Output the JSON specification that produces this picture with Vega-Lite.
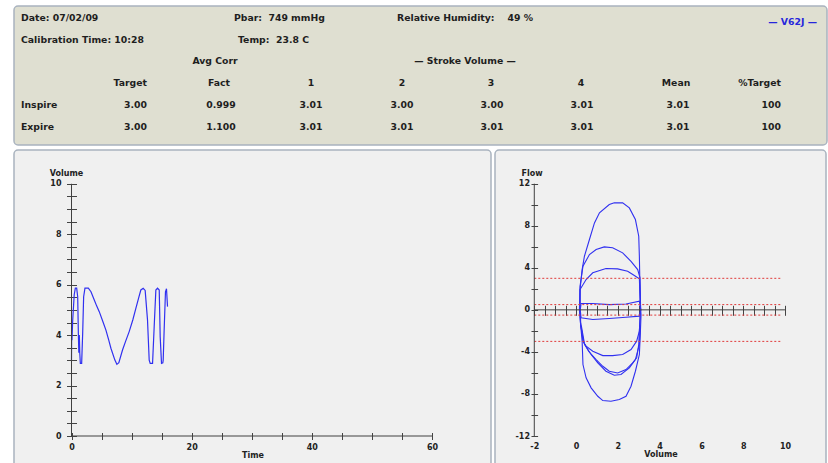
{
  "$schema": "https://vega.github.io/schema/vega-lite/v6.json",
  "background": "white",
  "padding": {"left": 13, "top": 5, "right": 0, "bottom": 0},
  "spacing": 3,
  "config": {
    "font": "DejaVu Sans",
    "view": {"stroke": null},
    "axis": {
      "labelFont": "DejaVu Sans", "labelFontWeight": "bold", "labelFontSize": 8, "labelColor": "#222222",
      "titleFont": "DejaVu Sans", "titleFontWeight": "bold", "titleFontSize": 8, "titleColor": "#222222",
      "tickColor": "#444444", "tickWidth": 1, "grid": false, "domain": false,
      "labelOverlap": false, "labelFlush": false
    },
    "text": {"font": "DejaVu Sans"}
  },
  "datasets": {
    "hdrLeft": [
      {"k": -0.222, "r": 1, "s": "Date: 07/02/09"},
      {"k": 2.144, "r": 1, "s": "Pbar:\u00a0 749 mmHg"},
      {"k": 3.956, "r": 1, "s": "Relative Humidity:\u00a0\u00a0\u00a0 49 %"},
      {"k": -0.222, "r": 2, "s": "Calibration Time: 10:28"},
      {"k": 2.189, "r": 2, "s": "Temp:\u00a0 23.8 C"},
      {"k": -0.222, "r": 5, "s": "Inspire"},
      {"k": -0.222, "r": 6, "s": "Expire"}
    ],
    "hdrCenter": [
      {"k": 1.933, "r": 3, "s": "Avg Corr"},
      {"k": 4.711, "r": 3, "s": "— Stroke Volume —"},
      {"k": 1.978, "r": 4, "s": "Fact"},
      {"k": 3, "r": 4, "s": "1"},
      {"k": 4.011, "r": 4, "s": "2"},
      {"k": 5, "r": 4, "s": "3"},
      {"k": 6, "r": 4, "s": "4"},
      {"k": 7.056, "r": 4, "s": "Mean"},
      {"k": 2, "r": 5, "s": "0.999"},
      {"k": 3, "r": 5, "s": "3.01"},
      {"k": 4.011, "r": 5, "s": "3.00"},
      {"k": 5.011, "r": 5, "s": "3.00"},
      {"k": 6.011, "r": 5, "s": "3.01"},
      {"k": 7.078, "r": 5, "s": "3.01"},
      {"k": 2, "r": 6, "s": "1.100"},
      {"k": 3, "r": 6, "s": "3.01"},
      {"k": 4.011, "r": 6, "s": "3.01"},
      {"k": 5.011, "r": 6, "s": "3.01"},
      {"k": 6.011, "r": 6, "s": "3.01"},
      {"k": 7.078, "r": 6, "s": "3.01"}
    ],
    "hdrRight": [
      {"k": 1.178, "r": 4, "s": "Target"},
      {"k": 1.178, "r": 5, "s": "3.00"},
      {"k": 1.178, "r": 6, "s": "3.00"},
      {"k": 8.222, "r": 4, "s": "%Target"},
      {"k": 8.222, "r": 5, "s": "100"},
      {"k": 8.222, "r": 6, "s": "100"}
    ],
    "hdrBlue": [
      {"k": 8.622, "r": 1.18, "s": "— V62J —"}
    ],
    "trace": [
      {"t": 0, "v": 3.0}, {"t": 0.04, "v": 4.5}, {"t": 0.08, "v": 3.8}, {"t": 0.2, "v": 4.6},
      {"t": 0.45, "v": 5.6}, {"t": 0.64, "v": 5.86}, {"t": 0.86, "v": 5.86}, {"t": 1.03, "v": 5.52},
      {"t": 1.14, "v": 4.07}, {"t": 1.22, "v": 3.3}, {"t": 1.3, "v": 4.0}, {"t": 1.38, "v": 3.28},
      {"t": 1.47, "v": 2.88}, {"t": 1.69, "v": 2.88}, {"t": 1.86, "v": 4.07}, {"t": 2.02, "v": 5.52},
      {"t": 2.24, "v": 5.86}, {"t": 2.8, "v": 5.86}, {"t": 3.24, "v": 5.72}, {"t": 3.79, "v": 5.39},
      {"t": 4.2, "v": 5.15}, {"t": 4.62, "v": 4.93}, {"t": 5.2, "v": 4.55}, {"t": 5.73, "v": 4.2},
      {"t": 6.2, "v": 3.8}, {"t": 6.56, "v": 3.48}, {"t": 7.22, "v": 3.01}, {"t": 7.55, "v": 2.84},
      {"t": 7.88, "v": 2.91}, {"t": 8.49, "v": 3.41}, {"t": 9.0, "v": 3.75}, {"t": 9.6, "v": 4.14},
      {"t": 10.2, "v": 4.6}, {"t": 10.71, "v": 5.06}, {"t": 11.2, "v": 5.5}, {"t": 11.54, "v": 5.79},
      {"t": 11.93, "v": 5.86}, {"t": 12.26, "v": 5.77}, {"t": 12.45, "v": 5.2}, {"t": 12.65, "v": 4.6},
      {"t": 12.93, "v": 3.01}, {"t": 13.1, "v": 2.88}, {"t": 13.49, "v": 2.88}, {"t": 13.76, "v": 4.33},
      {"t": 14.04, "v": 5.79}, {"t": 14.32, "v": 5.86}, {"t": 14.6, "v": 5.79}, {"t": 14.76, "v": 3.94},
      {"t": 14.98, "v": 2.88}, {"t": 15.2, "v": 2.9}, {"t": 15.26, "v": 3.01}, {"t": 15.42, "v": 4.2},
      {"t": 15.64, "v": 5.72}, {"t": 15.81, "v": 5.84}, {"t": 15.98, "v": 5.13}
    ],
    "loops": [
      {"loop": "A", "i": 1, "v": 0.16, "f": 0}, {"loop": "A", "i": 2, "v": 0.19, "f": 1.93},
      {"loop": "A", "i": 3, "v": 0.29, "f": 3.83}, {"loop": "A", "i": 4, "v": 0.4, "f": 5.1},
      {"loop": "A", "i": 5, "v": 0.64, "f": 6.69}, {"loop": "A", "i": 6, "v": 0.88, "f": 8.27},
      {"loop": "A", "i": 7, "v": 1.12, "f": 9.23}, {"loop": "A", "i": 8, "v": 1.59, "f": 10.02},
      {"loop": "A", "i": 9, "v": 1.83, "f": 10.18}, {"loop": "A", "i": 10, "v": 2.23, "f": 10.18},
      {"loop": "A", "i": 11, "v": 2.55, "f": 9.7}, {"loop": "A", "i": 12, "v": 2.84, "f": 8.59},
      {"loop": "A", "i": 13, "v": 3.0, "f": 7.0}, {"loop": "A", "i": 14, "v": 3.03, "f": 5.1},
      {"loop": "A", "i": 15, "v": 3.06, "f": 1.93}, {"loop": "A", "i": 16, "v": 3.09, "f": 0},
      {"loop": "A", "i": 17, "v": 3.11, "f": -0.45}, {"loop": "A", "i": 18, "v": 3.08, "f": -2.03},
      {"loop": "A", "i": 19, "v": 3.03, "f": -4.25}, {"loop": "A", "i": 20, "v": 2.84, "f": -5.84},
      {"loop": "A", "i": 21, "v": 2.63, "f": -7.27}, {"loop": "A", "i": 22, "v": 2.39, "f": -8.22},
      {"loop": "A", "i": 23, "v": 2.07, "f": -8.53}, {"loop": "A", "i": 24, "v": 1.67, "f": -8.7},
      {"loop": "A", "i": 25, "v": 1.28, "f": -8.63}, {"loop": "A", "i": 26, "v": 1.04, "f": -8.22},
      {"loop": "A", "i": 27, "v": 0.72, "f": -7.42}, {"loop": "A", "i": 28, "v": 0.48, "f": -6.47},
      {"loop": "A", "i": 29, "v": 0.33, "f": -5.2}, {"loop": "A", "i": 30, "v": 0.29, "f": -2.98},
      {"loop": "A", "i": 31, "v": 0.2, "f": -1.0}, {"loop": "A", "i": 32, "v": 0.16, "f": 0},
      {"loop": "B", "i": 1, "v": 0.18, "f": 0}, {"loop": "B", "i": 2, "v": 0.19, "f": 2.25},
      {"loop": "B", "i": 3, "v": 0.33, "f": 4.15}, {"loop": "B", "i": 4, "v": 0.64, "f": 5.26},
      {"loop": "B", "i": 5, "v": 0.96, "f": 5.74}, {"loop": "B", "i": 6, "v": 1.35, "f": 5.99},
      {"loop": "B", "i": 7, "v": 1.75, "f": 5.9}, {"loop": "B", "i": 8, "v": 2.23, "f": 5.42},
      {"loop": "B", "i": 9, "v": 2.63, "f": 4.62}, {"loop": "B", "i": 10, "v": 2.95, "f": 3.83},
      {"loop": "B", "i": 11, "v": 3.06, "f": 3.04}, {"loop": "B", "i": 12, "v": 3.09, "f": 0},
      {"loop": "B", "i": 13, "v": 3.03, "f": -2.03}, {"loop": "B", "i": 14, "v": 3.0, "f": -3.3},
      {"loop": "B", "i": 15, "v": 2.9, "f": -4.57}, {"loop": "B", "i": 16, "v": 2.71, "f": -5.05},
      {"loop": "B", "i": 17, "v": 2.39, "f": -5.68}, {"loop": "B", "i": 18, "v": 1.99, "f": -6.0},
      {"loop": "B", "i": 19, "v": 1.59, "f": -5.84}, {"loop": "B", "i": 20, "v": 1.28, "f": -5.37},
      {"loop": "B", "i": 21, "v": 0.96, "f": -4.73}, {"loop": "B", "i": 22, "v": 0.6, "f": -3.94},
      {"loop": "B", "i": 23, "v": 0.37, "f": -3.1}, {"loop": "B", "i": 24, "v": 0.22, "f": -1.5},
      {"loop": "B", "i": 25, "v": 0.18, "f": 0},
      {"loop": "C", "i": 1, "v": 0.2, "f": 0}, {"loop": "C", "i": 2, "v": 0.19, "f": 1.93},
      {"loop": "C", "i": 3, "v": 0.48, "f": 2.88}, {"loop": "C", "i": 4, "v": 0.8, "f": 3.52},
      {"loop": "C", "i": 5, "v": 1.43, "f": 3.93}, {"loop": "C", "i": 6, "v": 1.99, "f": 3.9},
      {"loop": "C", "i": 7, "v": 2.47, "f": 3.67}, {"loop": "C", "i": 8, "v": 2.79, "f": 3.26},
      {"loop": "C", "i": 9, "v": 3.03, "f": 2.95}, {"loop": "C", "i": 10, "v": 3.08, "f": 0},
      {"loop": "C", "i": 11, "v": 3.03, "f": -2.03}, {"loop": "C", "i": 12, "v": 2.9, "f": -2.98},
      {"loop": "C", "i": 13, "v": 2.63, "f": -3.78}, {"loop": "C", "i": 14, "v": 2.23, "f": -4.25},
      {"loop": "C", "i": 15, "v": 1.75, "f": -4.35}, {"loop": "C", "i": 16, "v": 1.28, "f": -4.35},
      {"loop": "C", "i": 17, "v": 0.8, "f": -3.94}, {"loop": "C", "i": 18, "v": 0.48, "f": -3.46},
      {"loop": "C", "i": 19, "v": 0.33, "f": -2.98}, {"loop": "C", "i": 20, "v": 0.22, "f": -1.2},
      {"loop": "C", "i": 21, "v": 0.2, "f": 0},
      {"loop": "D", "i": 1, "v": 0.2, "f": 0}, {"loop": "D", "i": 2, "v": 0.24, "f": 0.6},
      {"loop": "D", "i": 3, "v": 0.8, "f": 0.6}, {"loop": "D", "i": 4, "v": 1.59, "f": 0.5},
      {"loop": "D", "i": 5, "v": 2.39, "f": 0.55}, {"loop": "D", "i": 6, "v": 3.03, "f": 0.82},
      {"loop": "D", "i": 7, "v": 3.1, "f": 0}, {"loop": "D", "i": 8, "v": 3.03, "f": -0.6},
      {"loop": "D", "i": 9, "v": 2.39, "f": -0.7}, {"loop": "D", "i": 10, "v": 1.59, "f": -0.82},
      {"loop": "D", "i": 11, "v": 0.8, "f": -0.92}, {"loop": "D", "i": 12, "v": 0.24, "f": -0.76},
      {"loop": "D", "i": 13, "v": 0.2, "f": 0},
      {"loop": "E", "i": 1, "v": 0.25, "f": -1.5}, {"loop": "E", "i": 2, "v": 0.41, "f": -3.3},
      {"loop": "E", "i": 3, "v": 0.72, "f": -4.25}, {"loop": "E", "i": 4, "v": 1.04, "f": -5.05},
      {"loop": "E", "i": 5, "v": 1.43, "f": -5.84}, {"loop": "E", "i": 6, "v": 1.83, "f": -6.22},
      {"loop": "E", "i": 7, "v": 2.15, "f": -6.15}, {"loop": "E", "i": 8, "v": 2.55, "f": -5.52},
      {"loop": "E", "i": 9, "v": 2.84, "f": -4.73}, {"loop": "E", "i": 10, "v": 3.03, "f": -3.3},
      {"loop": "E", "i": 11, "v": 3.08, "f": -1.5}
    ],
    "limits": [
      {"v": -2, "v2": 9.8, "f": 3},
      {"v": -2, "v2": 9.8, "f": 0.5},
      {"v": -2, "v2": 9.8, "f": -0.5},
      {"v": -2, "v2": 9.8, "f": -3}
    ]
  },
  "vconcat": [
    {
      "width": 813,
      "height": 139,
      "view": {"fill": "#dfdfd1", "stroke": "#a9b3bf", "strokeWidth": 1.5, "cornerRadius": 4},
      "encoding": {
        "x": {"field": "k", "type": "quantitative", "scale": {"domain": [-0.3, 8.7333], "nice": false, "zero": false}, "axis": null},
        "y": {"field": "r", "type": "quantitative", "scale": {"domain": [0.445, 6.848], "nice": false, "zero": false, "reverse": true}, "axis": null},
        "text": {"field": "s", "type": "nominal"}
      },
      "layer": [
        {"data": {"name": "hdrLeft"}, "mark": {"type": "text", "align": "left", "baseline": "middle", "fontSize": 9.3, "fontWeight": "bold", "color": "#1e1e1e"}},
        {"data": {"name": "hdrCenter"}, "mark": {"type": "text", "align": "center", "baseline": "middle", "fontSize": 9.3, "fontWeight": "bold", "color": "#1e1e1e"}},
        {"data": {"name": "hdrRight"}, "mark": {"type": "text", "align": "right", "baseline": "middle", "fontSize": 9.3, "fontWeight": "bold", "color": "#1e1e1e"}},
        {"data": {"name": "hdrBlue"}, "mark": {"type": "text", "align": "right", "baseline": "middle", "fontSize": 9.3, "fontWeight": "bold", "color": "#2626dc"}}
      ]
    },
    {
      "spacing": 2,
      "hconcat": [
        {
          "width": 477,
          "height": 318,
          "view": {"fill": "#f0f0f0", "stroke": "#a9b3bf", "strokeWidth": 1.5, "cornerRadius": 4},
          "resolve": {"axis": {"x": "independent", "y": "independent"}},
          "layer": [
            {
              "data": {"name": "trace"},
              "mark": {"type": "line", "color": "#3030f0", "strokeWidth": 1.2},
              "encoding": {
                "x": {"field": "t", "type": "quantitative", "scale": {"domain": [-9.571, 69.82], "nice": false, "zero": false},
                  "axis": {"orient": "bottom", "offset": -35.5, "tickSize": 7, "values": [0, 5, 10, 15, 20, 25, 30, 35, 40, 45, 50, 55, 60],
                    "labelExpr": "datum.value % 20 === 0 ? toString(datum.value) : ''", "labelPadding": 3.5, "title": "Time", "titlePadding": 0}},
                "y": {"field": "v", "type": "quantitative", "scale": {"domain": [-1.2688, 11.34], "nice": false, "zero": false},
                  "axis": {"orient": "left", "offset": -62.5, "tickSize": 10,
                    "values": [0, 0.5, 1, 1.5, 2, 2.5, 3, 3.5, 4, 4.5, 5, 5.5, 6, 6.5, 7, 7.5, 8, 8.5, 9, 9.5, 10],
                    "labelExpr": "datum.value % 2 === 0 ? toString(datum.value) : ''", "labelPadding": 5.5,
                    "title": "Volume", "titleAngle": 0, "titleX": -10.5, "titleY": 23, "titleAlign": "center", "titleBaseline": "middle"}}
              }
            },
            {
              "data": {"values": [{"t": 0, "t2": 60, "v": 0}]},
              "mark": {"type": "rule", "color": "#404040", "strokeWidth": 1},
              "encoding": {
                "x": {"field": "t", "type": "quantitative", "scale": {"domain": [-9.571, 69.82], "nice": false, "zero": false}, "axis": null},
                "x2": {"field": "t2"},
                "y": {"field": "v", "type": "quantitative", "scale": {"domain": [-1.2688, 11.34], "nice": false, "zero": false}, "axis": null}
              }
            },
            {
              "data": {"values": [{"t": 0, "v": 0, "v2": 10}]},
              "mark": {"type": "rule", "color": "#404040", "strokeWidth": 1},
              "encoding": {
                "x": {"field": "t", "type": "quantitative", "scale": {"domain": [-9.571, 69.82], "nice": false, "zero": false}, "axis": null},
                "y": {"field": "v", "type": "quantitative", "scale": {"domain": [-1.2688, 11.34], "nice": false, "zero": false}, "axis": null},
                "y2": {"field": "v2"}
              }
            }
          ]
        },
        {
          "width": 331,
          "height": 318,
          "view": {"fill": "#f0f0f0", "stroke": "#a9b3bf", "strokeWidth": 1.5, "cornerRadius": 4},
          "resolve": {"axis": {"x": "independent", "y": "independent"}},
          "layer": [
            {
              "data": {"name": "loops"},
              "mark": {"type": "line", "color": "#3030f0", "strokeWidth": 1.1},
              "encoding": {
                "x": {"field": "v", "type": "quantitative", "scale": {"domain": [-3.881, 11.964], "nice": false, "zero": false},
                  "axis": {"orient": "bottom", "offset": -32, "ticks": false, "tickSize": 0, "values": [-2, 0, 2, 4, 6, 8, 10],
                    "labelExpr": "toString(datum.value)", "labelPadding": 6.5, "title": "Volume", "titlePadding": 0}},
                "y": {"field": "f", "type": "quantitative", "scale": {"domain": [-15.044, 15.206], "nice": false, "zero": false},
                  "axis": {"orient": "left", "offset": -42.6, "tickSize": 6.6,
                    "values": [-12, -10, -8, -6, -4, -2, 0, 2, 4, 6, 8, 10, 12],
                    "labelExpr": "datum.value % 4 === 0 ? toString(datum.value) : ''", "labelPadding": 1.5,
                    "title": "Flow", "titleAngle": 0, "titleX": -6.1, "titleY": 23, "titleAlign": "center", "titleBaseline": "middle"}},
                "detail": {"field": "loop", "type": "nominal"},
                "order": {"field": "i", "type": "quantitative"}
              }
            },
            {
              "data": {"name": "limits"},
              "mark": {"type": "rule", "color": "#e03a3a", "strokeWidth": 1, "strokeDash": [2, 2]},
              "encoding": {
                "x": {"field": "v", "type": "quantitative", "scale": {"domain": [-3.881, 11.964], "nice": false, "zero": false},
                  "axis": {"orient": "bottom", "offset": -162.7, "tickSize": 10, "labels": false, "title": null,
                    "values": [-2, -1.5, -1, -0.5, 0, 0.5, 1, 1.5, 2, 2.5, 3, 3.5, 4, 4.5, 5, 5.5, 6, 6.5, 7, 7.5, 8, 8.5, 9, 9.5, 10]}},
                "x2": {"field": "v2"},
                "y": {"field": "f", "type": "quantitative", "scale": {"domain": [-15.044, 15.206], "nice": false, "zero": false}, "axis": null}
              }
            },
            {
              "data": {"values": [{"v": -2, "v2": 10, "f": 0}]},
              "mark": {"type": "rule", "color": "#404040", "strokeWidth": 1},
              "encoding": {
                "x": {"field": "v", "type": "quantitative", "scale": {"domain": [-3.881, 11.964], "nice": false, "zero": false}, "axis": null},
                "x2": {"field": "v2"},
                "y": {"field": "f", "type": "quantitative", "scale": {"domain": [-15.044, 15.206], "nice": false, "zero": false}, "axis": null}
              }
            },
            {
              "data": {"values": [{"v": -2, "f": -12, "f2": 12}]},
              "mark": {"type": "rule", "color": "#404040", "strokeWidth": 1},
              "encoding": {
                "x": {"field": "v", "type": "quantitative", "scale": {"domain": [-3.881, 11.964], "nice": false, "zero": false}, "axis": null},
                "y": {"field": "f", "type": "quantitative", "scale": {"domain": [-15.044, 15.206], "nice": false, "zero": false}, "axis": null},
                "y2": {"field": "f2"}
              }
            }
          ]
        }
      ]
    }
  ]
}
